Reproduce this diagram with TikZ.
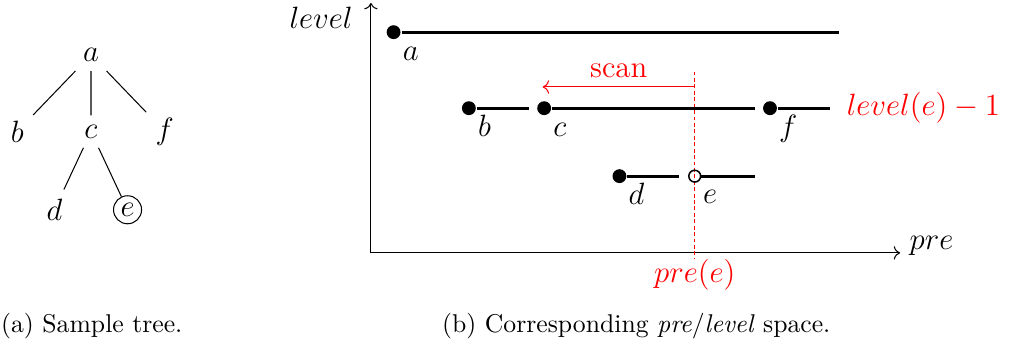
\documentclass[tikz,border=0pt]{standalone}
\usepackage{amsmath,amssymb}
\usepackage{tikz}
\usetikzlibrary{positioning,arrows.meta,calc}

\begin{document}
\begin{tikzpicture}[thick, every node/.style={font=\large},
        dot/.style={circle,fill=black,inner sep=0pt,minimum size=5.4pt},
        hollow/.style={circle,draw=black,semithick,inner sep=0pt,minimum size=4.6pt},
        lbl/.style={inner sep=1pt,font=\large,text height=7.5pt,text depth=2.5pt},
        seg/.style={line width=1.1pt},
        subcap/.style={font=\normalsize}]
        \useasboundingbox (-5.075,-1.245) rectangle (8.73,3.46);
        % (a) the tree
        \node (ta) at (-3.83,2.71) {$a$};
        \node (tb) at (-4.84,1.66) {$b$};
        \node (tc) at (-3.83,1.66) {$c$};
        \node (tf) at (-2.82,1.66) {$f$};
        \node (td) at (-4.33,0.59) {$d$};
        \node[circle,draw,thin,inner sep=1.2pt] (te) at (-3.33,0.59) {$e$};
        \draw[thin] (ta) -- (tb) (ta) -- (tc) (ta) -- (tf)
                    (tc) -- (td) (tc) -- (te);
        % (b) pre/level plane
        \coordinate (o) at (0,0);
        \coordinate (ytop) at (0,3.42);
        \coordinate (xend) at (7.24,0);
        \draw[thin,->] (o) -- (ytop);
        \draw[thin,->] (o) -- (xend);
        \node[anchor=east] (ylbl) at (-0.12,3.22) {$level$};
        \node[right=0pt of xend,yshift=0.09cm] (xlbl) {$pre$};
        % context node e
        \coordinate (dtop) at (4.43,2.48);
        \node[red,inner sep=0pt] (lpre) at (4.43,-0.30) {$pre(e)$};
        \draw[red,thin,dash pattern=on 1.5pt off 1pt] (dtop) -- (lpre);
        \foreach \n/\x/\y/\e in {a/0.31/3.02/6.40,b/1.34/1.98/2.16,c/2.37/1.98/5.25,
                                 f/5.46/1.98/6.28,d/3.40/1.05/4.22}{
            \node[dot,label={[lbl]below right:$\n$}] (p\n) at (\x,\y) {};
            \coordinate (q\n) at (\e,\y);
            \draw[seg] (p\n) -- (q\n);
        }
        \node[hollow,label={[lbl]below right:$e$}] (pe) at (4.43,1.05) {};
        \coordinate (qe) at (5.25,1.05);
        \draw[seg] (pe) -- (qe);
        % scan to the left
        \coordinate (s0) at (4.43,2.27);
        \coordinate (s1) at (2.35,2.27);
        \draw[red,thin,->] (s0) -- node[above] (scan) {scan} (s1);
        \node[red,right=0.1cm of qf] (lvl) {$level(e)-1$};
        % captions
        \node[subcap] (capa) at (-3.82,-1.0) {(a) Sample tree.};
        \node[subcap] (capb) at (3.63,-1.0) {(b) Corresponding \emph{pre}/\emph{level} space.};
    \end{tikzpicture}
\end{document}
